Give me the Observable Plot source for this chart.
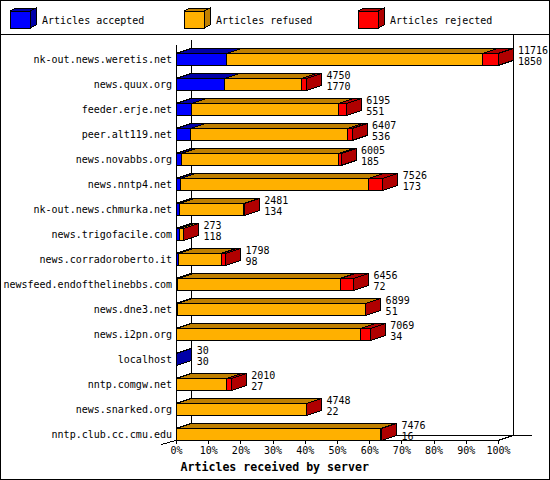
<!DOCTYPE html>
<html>
<head>
<meta charset="utf-8">
<script src="https://cdn.jsdelivr.net/npm/d3@7"></script>
<script src="https://cdn.jsdelivr.net/npm/@observablehq/plot@0.6"></script>
<style>
  html, body { margin: 0; padding: 0; background: #fff; }
  #wrap { position: relative; width: 550px; height: 480px; overflow: hidden; background: #fff; }
  #wrap svg { position: absolute; left: 0; top: 0; }
  #border { position: absolute; left: 0; top: 0; width: 550px; height: 480px; box-sizing: border-box; border: 1px solid #000; pointer-events: none; }
  #sep { position: absolute; left: 0; top: 34px; width: 550px; height: 1px; background: #000; }
</style>
</head>
<body>
<div id="wrap"><div id="sep"></div><div id="border"></div></div>
<script>
// ---- data ----
const servers = ["nk-out.news.weretis.net","news.quux.org","feeder.erje.net","peer.alt119.net","news.novabbs.org","news.nntp4.net","nk-out.news.chmurka.net","news.trigofacile.com","news.corradoroberto.it","newsfeed.endofthelinebbs.com","news.dne3.net","news.i2pn.org","localhost","nntp.comgw.net","news.snarked.org","nntp.club.cc.cmu.edu"];
const offered  = [11716, 4750, 6195, 6407, 6005, 7526, 2481, 273, 1798, 6456, 6899, 7069, 30, 2010, 4748, 7476];
const accepted = [1850, 1770, 551, 536, 185, 173, 134, 118, 98, 72, 51, 34, 30, 27, 22, 16];
const rejected = [550, 180, 280, 160, 85, 520, 15, 3, 160, 485, 12, 365, 0, 170, 8, 30];
const seriesNames = ["Articles accepted", "Articles refused", "Articles rejected"];
const frontColors = ["#0000ff", "#ffb000", "#ff0000"];
const darkColors  = ["#0000a8", "#c08000", "#b00000"];
const xTicks = [0, 10, 20, 30, 40, 50, 60, 70, 80, 90, 100];
const axisTitle = "Articles received by server";

// ---- derived tables ----
const maxTotal = d3.max(offered);
const rows = servers.map((s, i) => ({server: s, total: offered[i], acc: accepted[i], pct: offered[i] / maxTotal * 100}));
const segments = [];
servers.forEach((s, i) => {
  const vals = [accepted[i], offered[i] - accepted[i] - rejected[i], rejected[i]];
  let cum = 0;
  vals.forEach((v, k) => {
    if (v > 0) segments.push({server: s, k, x1: cum / maxTotal * 100, x2: (cum + v) / maxTotal * 100});
    cum += v;
  });
});

const DX = 15, DY = 5, LEGEND_H = 34;

// back wall / floor lines
function decor(index, scales) {
  const sx = scales.x, sy = scales.y;
  const bw = sy.bandwidth ? sy.bandwidth() : 12;
  const X0 = sx(0), X1 = sx(100);
  const Yt = sy(servers[0]) - 8.5;
  const Yb = sy(servers[servers.length - 1]) + bw;
  const g = d3.create("svg:g").attr("fill", "none").attr("stroke", "#000").attr("shape-rendering", "crispEdges");
  g.append("path").attr("d", `M${X0 + DX},${Yt - DY}V${Yb - DY}`);
  g.append("path").attr("d", `M${X1 + DX},${LEGEND_H}V${Yb - DY}`);
  g.append("path").attr("d", `M${X0 + DX},${Yb - DY}H${X1 + DX + 19}`);
  g.append("path").attr("d", `M${X0},${Yt}V${Yb}`);
  g.append("path").attr("d", `M${X0 - 15},${Yb + 4}L${X0},${Yb}H${X1}L${X1 + DX},${Yb - DY}`);
  return g.node();
}

// top and side faces of the 3D bars
function faces(index, scales) {
  const sx = scales.x, sy = scales.y;
  const bw = sy.bandwidth ? sy.bandwidth() : 12;
  const g = d3.create("svg:g").attr("stroke", "#000").attr("shape-rendering", "crispEdges");
  for (const d of segments) {
    const a = sx(d.x1), b = sx(d.x2), t = sy(d.server), u = t + bw;
    g.append("polygon").attr("fill", darkColors[d.k])
      .attr("points", [[a, t], [b, t], [b + DX, t - DY], [a + DX, t - DY]].join(" "));
    g.append("polygon").attr("fill", darkColors[d.k])
      .attr("points", [[b, t], [b + DX, t - DY], [b + DX, u - DY], [b, u]].join(" "));
  }
  return g.node();
}

const chart = Plot.plot({
  width: 550,
  height: 480,
  marginLeft: 176,
  marginRight: 52,
  marginTop: 40,
  marginBottom: 40,
  style: {fontFamily: "'DejaVu Sans Mono', monospace", fontSize: "10px", background: "transparent", color: "#000"},
  x: {domain: [0, 100]},
  y: {domain: servers, range: [40, 454], paddingInner: 0.52, paddingOuter: 0.54, align: 0.5, round: false},
  color: {type: "identity"},
  marks: [
    decor,
    faces,
    Plot.barX(segments, {x1: "x1", x2: "x2", y: "server", fill: d => frontColors[d.k], stroke: "#000", strokeWidth: 1, shapeRendering: "crispEdges"}),
    Plot.axisX({ticks: xTicks, tickFormat: d => d + "%", tickSize: 4, tickPadding: 2, label: null, anchor: "bottom"}),
    Plot.axisY({tickSize: 0, tickPadding: 4.5, label: null, anchor: "left"}),
    Plot.text(rows, {x: "pct", y: "server", text: d => String(d.total), dx: 19.5, dy: -9.5, textAnchor: "start", fill: "#000"}),
    Plot.text(rows, {x: "pct", y: "server", text: d => String(d.acc), dx: 19.5, dy: 1.5, textAnchor: "start", fill: "#000"}),
    Plot.text([axisTitle], {frameAnchor: "bottom-left", text: d => d, dx: 4, dy: 27, lineAnchor: "middle", textAnchor: "start", fontWeight: "bold", fontSize: 11.6, fill: "#000"})
  ]
});
chart.setAttribute("shape-rendering", "crispEdges");
const wrap = document.getElementById("wrap");
wrap.insertBefore(chart, wrap.firstChild);

// ---- legend (above the plot area) ----
const legend = d3.create("svg").attr("width", 550).attr("height", LEGEND_H)
  .style("font-family", "'DejaVu Sans Mono', monospace").style("font-size", "10px");
const legendX = [10, 184, 358];
seriesNames.forEach((name, k) => {
  const fx = legendX[k];
  const g = legend.append("g").attr("stroke", "#000").attr("shape-rendering", "crispEdges");
  g.append("polygon").attr("fill", darkColors[k]).attr("points", [[fx, 11], [fx + 6, 8], [fx + 26, 8], [fx + 20, 11]].join(" "));
  g.append("polygon").attr("fill", darkColors[k]).attr("points", [[fx + 20, 11], [fx + 26, 8], [fx + 26, 25], [fx + 20, 28]].join(" "));
  g.append("rect").attr("fill", frontColors[k]).attr("x", fx).attr("y", 11).attr("width", 20).attr("height", 17);
  legend.append("text").attr("x", fx + 32).attr("y", 20).attr("dominant-baseline", "central").attr("fill", "#000").text(name);
});
wrap.insertBefore(legend.node(), wrap.firstChild.nextSibling);
</script>
</body>
</html>
